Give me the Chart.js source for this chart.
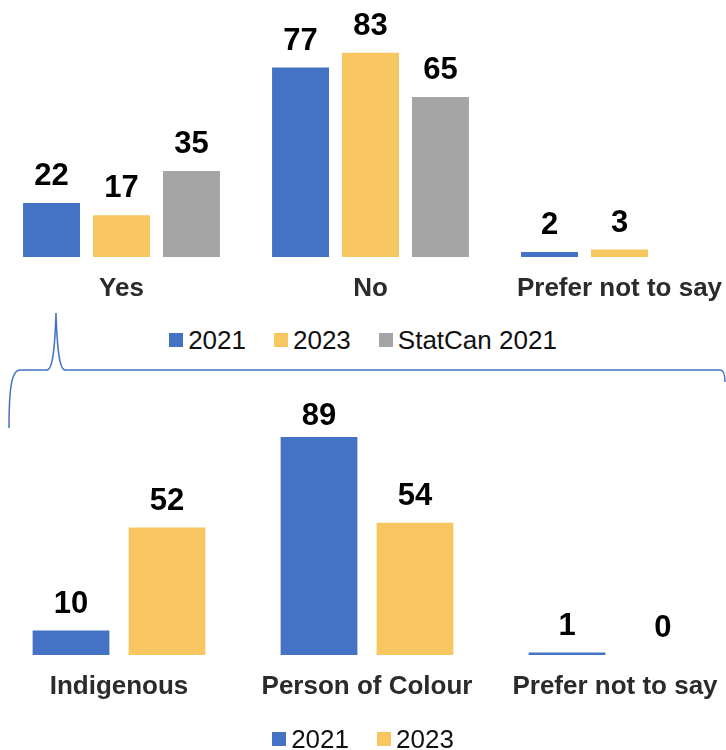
<!DOCTYPE html>
<html>
<head>
<meta charset="utf-8">
<script src="https://cdn.jsdelivr.net/npm/chart.js@4.4.1/dist/chart.umd.min.js"></script>
<style>
  html, body { margin: 0; padding: 0; background: #fff; }
  body { width: 726px; height: 750px; position: relative; overflow: hidden; font-family: "Liberation Sans", Arial, sans-serif; }
  canvas { position: absolute; }
  #chartTop { left: -3px; top: 0; }
  #chartBottom { left: -5px; top: 400px; }
  .legend { position: absolute; left: 0; width: 726px; display: flex; justify-content: center; align-items: center; font-size: 26px; line-height: 30px; color: #111; }
  .legend .item { display: flex; align-items: center; margin: 0 14px; }
  .legend .box { width: 14px; height: 14px; margin-right: 5px; }
  #legendTop { top: 325px; }
  #legendBottom { top: 724px; }
  svg { position: absolute; left: 0; top: 0; }
</style>
</head>
<body>
<canvas id="chartTop" width="747" height="307"></canvas>
<div class="legend" id="legendTop"></div>
<svg width="726" height="750">
  <path d="M9,428 C9,392 11,370 20,370 L47,370 C53,370 55,345 56,313 C57,345 59,370 65,370 L720,370 C723,370 725,374 725,382" fill="none" stroke="#4472C4" stroke-width="1.5"/>
</svg>
<canvas id="chartBottom" width="744" height="305"></canvas>
<div class="legend" id="legendBottom"></div>

<script>
// данные: верхний график
const topCategories = ["Yes", "No", "Prefer not to say"];
const top2021 = [22, 77, 2];
const top2023 = [17, 83, 3];
const topStatCan = [35, 65, null];

// данные: нижний график
const bottomCategories = ["Indigenous", "Person of Colour", "Prefer not to say"];
const bottom2021 = [10, 89, 1];
const bottom2023 = [52, 54, 0];

const BLUE = "#4472C4";
const YELLOW = "#F7C660";
const GRAY = "#A5A5A5";
const FONT = '"Liberation Sans", Arial, sans-serif';

// подписи значений над столбцами
const valueLabels = {
    id: "valueLabels",
    afterDatasetsDraw(chart, args, opts) {
        const ctx = chart.ctx;
        ctx.save();
        ctx.font = "bold 31px " + FONT;
        ctx.fillStyle = "#000";
        ctx.textAlign = "center";
        ctx.textBaseline = "alphabetic";
        chart.data.datasets.forEach((ds, i) => {
            chart.getDatasetMeta(i).data.forEach((bar, j) => {
                const v = ds.data[j];
                if (v === null || v === undefined) return;
                const y = Math.max(bar.y - opts.offset, chart.chartArea.top + opts.minTop);
                ctx.fillText(String(v), bar.x, y);
            });
        });
        ctx.restore();
    },
};

function makeChart(id, labels, datasets, catPct, barPct, padTop) {
    const ctx = document.getElementById(id).getContext("2d");
    return new Chart(ctx, {
        type: "bar",
        data: {
            labels: labels,
            datasets: datasets.map(d => ({
                label: d.label,
                data: d.data,
                backgroundColor: d.color,
                borderWidth: 0,
                categoryPercentage: catPct,
                barPercentage: barPct,
            })),
        },
        options: {
            responsive: false,
            animation: false,
            devicePixelRatio: 1,
            layout: { padding: { top: padTop, left: 0, right: 0, bottom: 0 } },
            plugins: {
                legend: { display: false },
                tooltip: { enabled: false },
                valueLabels: { offset: 18, minTop: 15 },
            },
            scales: {
                y: { display: false, min: 0, max: 100 },
                x: {
                    grid: { display: false, drawTicks: false },
                    border: { display: false },
                    ticks: {
                        color: "#2b2b2b",
                        font: { family: FONT, size: 26, weight: "bold" },
                        padding: 16,
                        maxRotation: 0,
                        autoSkip: false,
                    },
                    afterFit(scale) { scale.height = 50; },
                },
            },
        },
        plugins: [valueLabels],
    });
}

function buildLegend(elId, chart) {
    const el = document.getElementById(elId);
    chart.data.datasets.forEach(ds => {
        const item = document.createElement("div");
        item.className = "item";
        const box = document.createElement("span");
        box.className = "box";
        box.style.background = ds.backgroundColor;
        const txt = document.createElement("span");
        txt.textContent = ds.label;
        item.appendChild(box);
        item.appendChild(txt);
        el.appendChild(item);
    });
}

const chartTop = makeChart("chartTop", topCategories, [
    { label: "2021", data: top2021, color: BLUE },
    { label: "2023", data: top2023, color: YELLOW },
    { label: "StatCan 2021", data: topStatCan, color: GRAY },
], 0.843, 0.814, 11);

const chartBottom = makeChart("chartBottom", bottomCategories, [
    { label: "2021", data: bottom2021, color: BLUE },
    { label: "2023", data: bottom2023, color: YELLOW },
], 0.774, 0.80, 10);

buildLegend("legendTop", chartTop);
buildLegend("legendBottom", chartBottom);
</script>
</body>
</html>
